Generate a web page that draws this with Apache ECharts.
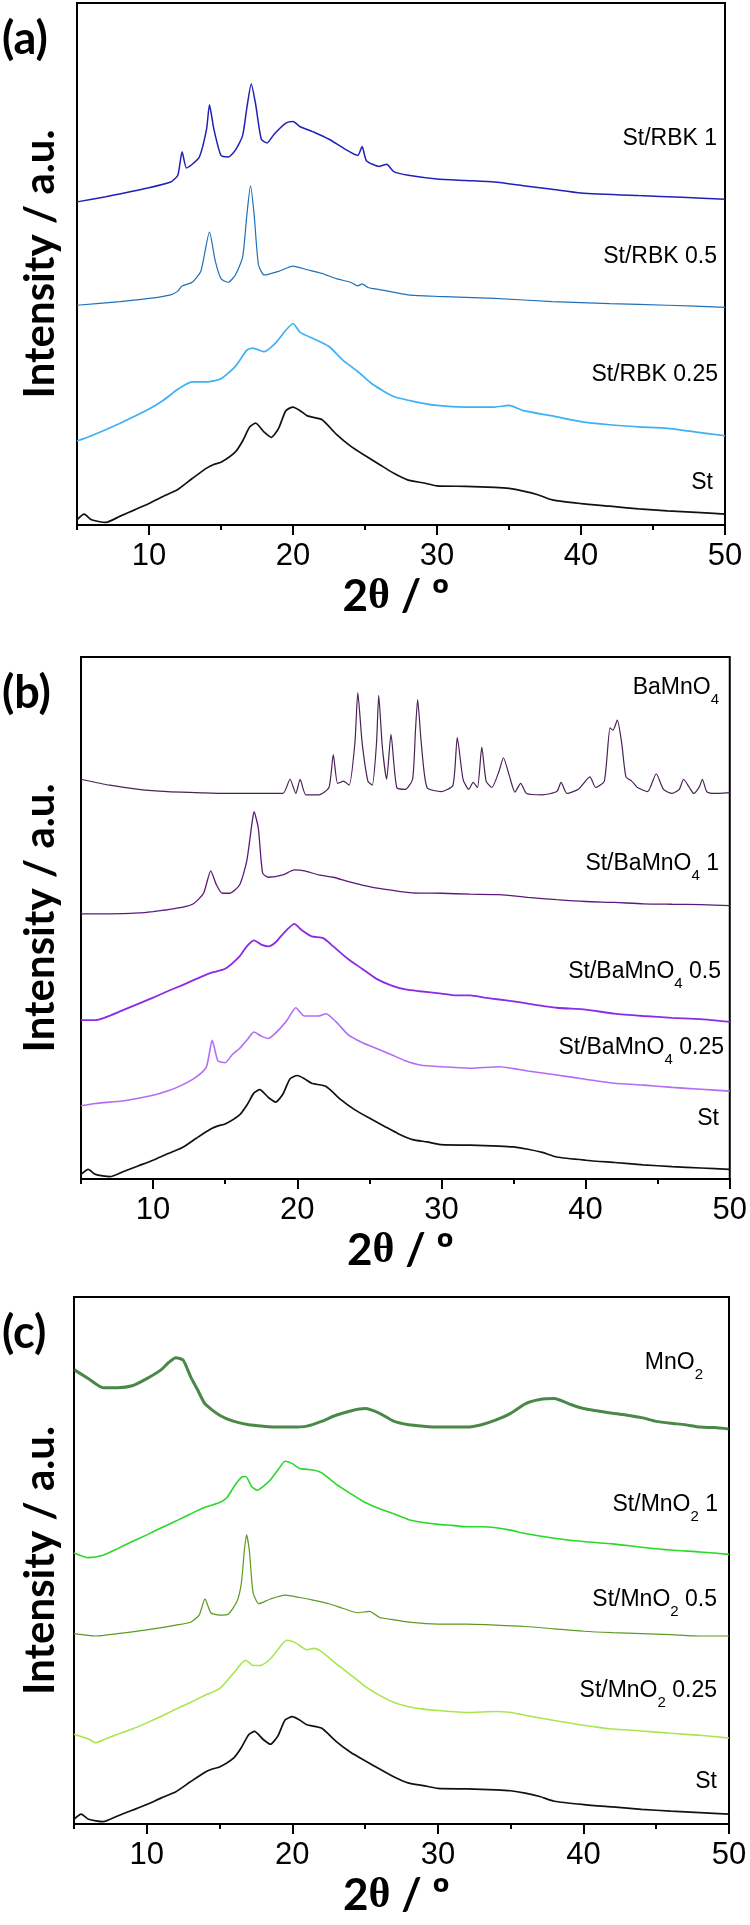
<!DOCTYPE html>
<html>
<head>
<meta charset="utf-8">
<script src="https://cdn.jsdelivr.net/npm/echarts@6/dist/echarts.min.js"></script>
<style>
  html, body { margin: 0; padding: 0; background: #fff; }
  #chart { width: 750px; height: 1925px; }
</style>
</head>
<body>
<div id="chart"></div>
<script>
// x axis ticks (2θ, degrees)
const majorTicks = [10, 20, 30, 40, 50];
const minorTicks = [5, 15, 25, 35, 45];

// starch pattern, shared by the three panels ([2θ, intensity])
const stPattern = [[5,1.0],[5.5,2.1],[6,1.0],[7,0.5],[8,1.7],[9,2.9],[10,4.1],[11,5.5],[12,6.8],[13,8.9],[14,10.9],[14.5,11.6],[15,12.0],[16,14.0],[16.5,16.1],[17,18.8],[17.4,19.5],[18,17.8],[18.5,16.8],[19,18.5],[19.5,21.9],[20,22.6],[20.5,21.9],[21,20.9],[22,20.2],[23,17.4],[24,15.1],[25,13.3],[26,11.6],[27,9.9],[28,8.6],[29,8.1],[30,7.5],[32,7.4],[34,7.2],[35,7.0],[36,6.5],[37,5.8],[38,4.8],[40,4.1],[42,3.6],[44,3.1],[46,2.7],[48,2.4],[50,2.1]];

// panel (a) - RBK
const rbk1 = [[5,61.9],[7,62.9],[10,64.6],[11.5,65.7],[12,67.0],[12.3,71.5],[12.6,68.4],[13,69.1],[13.5,70.5],[14,75.9],[14.2,80.5],[14.5,75.9],[15,70.8],[15.5,70.5],[16,71.8],[16.5,74.6],[16.8,80.0],[17.1,84.5],[17.4,80.7],[17.8,73.9],[18.2,73.2],[18.7,74.9],[19.5,77.0],[20,77.3],[20.5,76.3],[21.5,75.2],[22.5,73.9],[23.5,72.2],[24.5,70.8],[24.8,72.5],[25.1,69.8],[26,68.7],[26.5,69.1],[27,67.7],[28,67.0],[30,66.3],[32,66.0],[34,65.7],[36,65.0],[38,64.3],[40,63.6],[44,63.1],[47,62.8],[50,62.4]];
const rbk05 = [[5,42.1],[8,42.8],[10,43.4],[11.5,44.1],[12,44.8],[12.3,45.8],[13,46.5],[13.6,48.6],[14.2,56.1],[14.6,50.6],[15,47.2],[15.5,46.5],[16,47.9],[16.5,51.3],[16.8,59.5],[17.05,65.0],[17.3,59.5],[17.6,49.9],[18,47.9],[19,48.6],[20,49.6],[21,48.9],[22,48.2],[23,47.2],[24,46.5],[24.5,45.8],[24.8,46.2],[25.2,45.5],[26,45.1],[28,44.1],[30,43.8],[34,43.4],[38,42.8],[42,42.4],[46,42.1],[50,41.7]];
const rbk025 = [[5,16.1],[6,17.1],[8,19.5],[10,22.2],[11,23.9],[12,26.0],[13,27.4],[14,27.4],[15,28.0],[16,30.4],[16.8,33.5],[17.2,33.9],[18,33.2],[18.8,34.9],[19.5,37.3],[20,38.6],[20.5,36.9],[21.5,35.6],[22.5,34.2],[23.5,31.5],[24.5,29.4],[25.5,27.0],[27,24.6],[28.5,23.6],[30,22.9],[32,22.6],[34,22.6],[35,22.9],[36,21.9],[38,20.9],[40,19.8],[42,19.2],[44,18.8],[46,18.5],[48,17.8],[50,17.1]];

// panel (b) - BaMnO4
const bamno4 = [[5,87.3],[7,86.0],[9,85.1],[11,84.6],[13,84.4],[15,84.2],[17,84.2],[19,84.2],[19.5,87.3],[19.9,84.2],[20.2,87.3],[20.6,83.9],[21.5,83.9],[22.2,85.5],[22.5,92.7],[22.8,86.4],[23.2,86.9],[23.6,86.0],[24.0,95.3],[24.2,106.2],[24.5,95.3],[24.9,86.9],[25.2,86.0],[25.5,95.3],[25.65,105.6],[25.9,94.4],[26.2,87.3],[26.5,97.1],[26.9,85.5],[27.5,85.1],[28.0,87.3],[28.2,98.0],[28.35,104.7],[28.6,95.3],[29.0,85.5],[30.0,84.6],[30.8,86.0],[31.1,96.4],[31.5,87.3],[31.9,85.1],[32.2,86.6],[32.5,85.5],[32.8,94.3],[33.1,86.9],[33.5,85.5],[34.0,89.1],[34.3,92.0],[34.7,88.2],[35.1,84.5],[35.5,86.4],[35.9,84.2],[37.0,83.9],[38.0,84.6],[38.3,86.6],[38.7,84.2],[39.5,85.1],[40.3,87.8],[40.7,85.5],[41.3,86.9],[41.7,98.5],[41.9,98.0],[42.2,100.2],[42.5,95.3],[42.8,87.8],[43.2,86.9],[43.6,85.5],[44.3,84.6],[44.9,88.5],[45.4,85.1],[46.0,84.2],[46.5,85.1],[46.8,87.3],[47.2,85.5],[47.5,84.2],[47.9,85.7],[48.1,87.3],[48.4,84.6],[48.8,84.2],[50,84.4]];
const baSt1 = [[5,57.9],[7,57.9],[9,58.1],[10,58.4],[11,58.8],[12,59.3],[12.8,60.1],[13.5,62.4],[14,67.3],[14.4,64.2],[14.8,62.4],[15.3,62.4],[16,64.2],[16.5,69.5],[16.85,77.5],[17.0,80.2],[17.3,76.6],[17.6,66.8],[18,65.9],[19,66.4],[19.8,67.5],[20.5,67.3],[21.5,66.4],[22.5,65.9],[23.5,65.0],[24.5,64.2],[26,63.3],[28,62.5],[30,62.4],[32,62.2],[34,62.1],[36,61.5],[38,61.0],[40,60.6],[42,60.4],[44,60.1],[46,60.0],[48,59.9],[50,59.7]];
const baSt05 = [[5,34.7],[6,34.7],[8,37.0],[10,39.6],[11,41.0],[12,42.3],[13,43.7],[14,45.0],[15,45.9],[16,48.6],[16.5,50.8],[17,52.1],[17.5,51.2],[18,50.8],[18.5,51.7],[19,53.5],[19.8,55.7],[20.3,54.4],[21,53.0],[21.8,52.6],[22.5,50.8],[23.5,48.1],[24.5,45.9],[25.5,43.7],[26.5,42.3],[27.5,41.4],[28.5,41.0],[30,40.5],[31,40.1],[32,40.1],[33,39.6],[34,39.2],[35,38.8],[36,38.3],[38,37.4],[40,37.0],[42,36.1],[44,35.6],[46,35.2],[48,34.9],[50,34.3]];
const baSt025 = [[5,16.0],[6,16.5],[8,17.1],[10,18.3],[11,19.2],[12,20.5],[13,22.3],[13.7,24.5],[14.1,30.3],[14.5,25.8],[15,25.4],[15.5,27.2],[16,28.5],[16.5,30.3],[17,32.1],[17.5,31.2],[18,30.7],[18.7,32.5],[19.3,34.7],[19.9,37.4],[20.5,35.6],[21.5,35.6],[22,36.1],[22.7,34.3],[23.5,31.6],[24.5,29.8],[25.5,28.5],[26.5,27.2],[27.5,25.8],[28.5,24.9],[30,24.5],[32,24.2],[34,24.5],[35,24.1],[36,23.6],[38,22.7],[40,21.8],[42,20.9],[44,20.5],[46,20.0],[48,19.6],[50,19.2]];

// panel (c) - MnO2
const mno2 = [[5,95.7],[6,93.8],[7,91.9],[8,91.9],[9,92.3],[10,93.8],[11,95.7],[11.5,97.2],[12,98.2],[12.5,97.7],[13,94.3],[13.5,91.4],[14,88.5],[15,86.1],[16,84.8],[17,84.1],[18,83.8],[19,83.6],[20,83.6],[21,83.8],[22,84.8],[23,86.1],[24,87.0],[25,87.5],[26,86.5],[27,84.8],[28,84.1],[29,83.8],[30,83.6],[31,83.6],[32,83.6],[33,84.1],[34,85.1],[35,86.5],[36,88.5],[37,89.4],[38,89.6],[39,88.5],[40,87.5],[41,87.0],[42,86.5],[43,86.1],[44,85.6],[45,84.8],[46,84.4],[47,84.1],[48,83.6],[49,83.5],[50,83.2]];
const mnSt1 = [[5,57.1],[6,56.1],[7,56.6],[8,58.0],[9,59.5],[10,60.9],[11,62.4],[12,63.8],[13,65.3],[14,66.7],[15,67.7],[15.5,68.7],[16,71.1],[16.5,73.0],[16.8,73.2],[17.2,71.1],[17.6,70.3],[18,71.1],[18.5,72.5],[19,74.5],[19.5,76.4],[20,75.9],[20.5,74.9],[21,74.7],[21.5,74.5],[22,74.0],[23,71.6],[24,69.6],[25,67.7],[26,66.4],[27,65.3],[28,64.1],[29,63.5],[30,63.1],[31,62.9],[32,62.6],[33,62.6],[34,62.4],[35,61.9],[36,61.2],[38,60.2],[40,59.5],[42,59.0],[44,58.3],[46,57.7],[48,57.3],[50,56.8]];
const mnSt05 = [[5,40.1],[6.5,39.6],[8,40.1],[10,40.9],[12,41.9],[13,42.5],[13.6,44.0],[14,47.4],[14.4,44.5],[15,44.0],[15.6,44.2],[16.2,46.9],[16.5,50.8],[16.7,57.5],[16.85,60.9],[17.05,57.5],[17.3,48.8],[17.7,46.4],[18.5,47.4],[19.5,48.2],[20.5,47.7],[21.5,47.1],[22.5,46.4],[23.5,45.4],[24.5,44.5],[25.3,44.8],[26,43.5],[27,43.0],[28,42.5],[30,42.1],[32,42.1],[34,41.9],[36,41.6],[38,41.1],[40,40.6],[42,40.3],[44,40.1],[46,39.9],[48,39.6],[50,39.6]];
const mnSt025 = [[5,18.9],[6,17.9],[6.5,17.1],[7,17.7],[8,18.9],[9,20.0],[10,21.3],[11,22.7],[12,24.2],[13,25.6],[14,27.1],[15,28.5],[16,31.9],[16.5,33.8],[16.8,34.5],[17.3,33.4],[17.8,33.4],[18.5,34.8],[19,36.7],[19.6,38.7],[20.2,38.2],[21,36.7],[21.5,37.0],[22,36.3],[23,33.8],[24,31.4],[25,29.0],[26,27.1],[27,25.6],[28,24.7],[29,24.2],[30,23.9],[32,23.5],[34,23.7],[35,23.5],[36,22.9],[38,21.8],[40,20.8],[42,20.0],[44,19.6],[46,19.1],[48,18.7],[50,18.1]];

const panels = [
  {
    letter: '(a)', yMax: 100,
    box: {left: 77, top: 3, width: 648, height: 522},
    series: [
      {data: stPattern, color: '#111111', w: 1.7, label: 'St', lx: 713, ly: 483},
      {data: rbk025, color: '#3fb0f5', w: 1.7, label: 'St/RBK 0.25', lx: 718, ly: 375},
      {data: rbk05, color: '#2070b8', w: 1.2, label: 'St/RBK 0.5', lx: 717, ly: 257},
      {data: rbk1, color: '#2020b8', w: 1.5, label: 'St/RBK 1', lx: 717, ly: 139}
    ]
  },
  {
    letter: '(b)', yMax: 114,
    box: {left: 81, top: 657, width: 649, height: 522},
    series: [
      {data: stPattern, color: '#111111', w: 1.7, label: 'St', lx: 719, ly: 1119},
      {data: baSt025, color: '#b36cf5', w: 1.6, label: 'St/BaMnO{s|4} 0.25', lx: 724, ly: 1048},
      {data: baSt05, color: '#8a2be6', w: 1.8, label: 'St/BaMnO{s|4} 0.5', lx: 721, ly: 972},
      {data: baSt1, color: '#5c1a78', w: 1.3, label: 'St/BaMnO{s|4} 1', lx: 719, ly: 864},
      {data: bamno4, color: '#4a2256', w: 1.2, label: 'BaMnO{s|4}', lx: 719, ly: 688}
    ]
  },
  {
    letter: '(c)', yMax: 111,
    box: {left: 74, top: 1297, width: 655, height: 527},
    series: [
      {data: stPattern, color: '#111111', w: 1.7, label: 'St', lx: 717, ly: 1782},
      {data: mnSt025, color: '#a8e64c', w: 1.6, label: 'St/MnO{s|2} 0.25', lx: 717, ly: 1691},
      {data: mnSt05, color: '#5c9a20', w: 1.2, label: 'St/MnO{s|2} 0.5', lx: 717, ly: 1600},
      {data: mnSt1, color: '#2ad82a', w: 1.6, label: 'St/MnO{s|2} 1', lx: 718, ly: 1505},
      {data: mno2, color: '#1d6a1d', w: 3, label: 'MnO{s|2}', lx: 703, ly: 1363}
    ]
  }
];

const option = {
  animation: false,
  backgroundColor: '#fff',
  grid: [],
  xAxis: [],
  yAxis: [],
  series: [],
  graphic: []
};

const labelRich = {
  s: {fontSize: 15, fontFamily: 'Liberation Sans', color: '#000', verticalAlign: 'bottom', padding: [0, 0, -8, 0]}
};

panels.forEach((p, i) => {
  option.grid.push(Object.assign({show: true, borderColor: '#000', borderWidth: 2}, p.box));
  // major ticks + labels
  option.xAxis.push({
    gridIndex: i, type: 'value', min: 5, max: 50, position: 'bottom',
    axisLine: {show: true, lineStyle: {color: '#000', width: 2}},
    axisTick: {show: true, customValues: majorTicks, length: 10, lineStyle: {color: '#000', width: 2}},
    axisLabel: {customValues: majorTicks, fontSize: 31, color: '#000', fontFamily: 'Liberation Sans', margin: 16},
    splitLine: {show: false}
  });
  // minor ticks
  option.xAxis.push({
    gridIndex: i, type: 'value', min: 5, max: 50, position: 'bottom',
    axisLine: {show: false},
    axisTick: {show: true, customValues: minorTicks, length: 5, lineStyle: {color: '#000', width: 2}},
    axisLabel: {show: false},
    splitLine: {show: false}
  });
  option.yAxis.push({
    gridIndex: i, type: 'value', min: 0, max: p.yMax,
    axisLine: {show: true, lineStyle: {color: '#000', width: 2}},
    axisTick: {show: false}, axisLabel: {show: false}, splitLine: {show: false}
  });

  p.series.forEach(s => {
    option.series.push({
      type: 'line', xAxisIndex: 2 * i, yAxisIndex: i,
      data: s.data, showSymbol: false, silent: true,
      smooth: 0.2,
      lineStyle: {color: s.color, width: s.w, opacity: s.w > 2 ? 0.8 : 1}
    });
    option.graphic.push({
      type: 'text', x: s.lx, y: s.ly,
      style: {
        text: s.label, fill: '#000', font: '23px "Liberation Sans"',
        align: 'right', verticalAlign: 'middle', rich: labelRich
      }
    });
  });

  const midY = p.box.top + p.box.height / 2;
  // panel letter
  option.graphic.push({
    type: 'text', x: 2, y: p.box.top + 36,
    style: {text: p.letter, fill: '#000', font: 'bold 45px Lato', verticalAlign: 'middle'}
  });
  // y title
  option.graphic.push({
    type: 'text', x: 40, y: midY, rotation: Math.PI / 2,
    style: {text: 'Intensity / a.u.', fill: '#000', font: 'bold 42px Lato', align: 'center', verticalAlign: 'middle'}
  });
  // x title
  option.graphic.push({
    type: 'text', x: p.box.left + p.box.width / 2 - 5, y: p.box.top + p.box.height + 72,
    style: {
      text: '{n|2}{t|θ}{n| / º}', align: 'center', verticalAlign: 'middle',
      rich: {
        n: {font: 'bold 44px Lato', fill: '#000'},
        t: {font: 'bold 42px "Liberation Serif"', fill: '#000'}
      }
    }
  });
});

const chart = echarts.init(document.getElementById('chart'), null, {renderer: 'canvas'});
chart.setOption(option);
</script>
</body>
</html>
